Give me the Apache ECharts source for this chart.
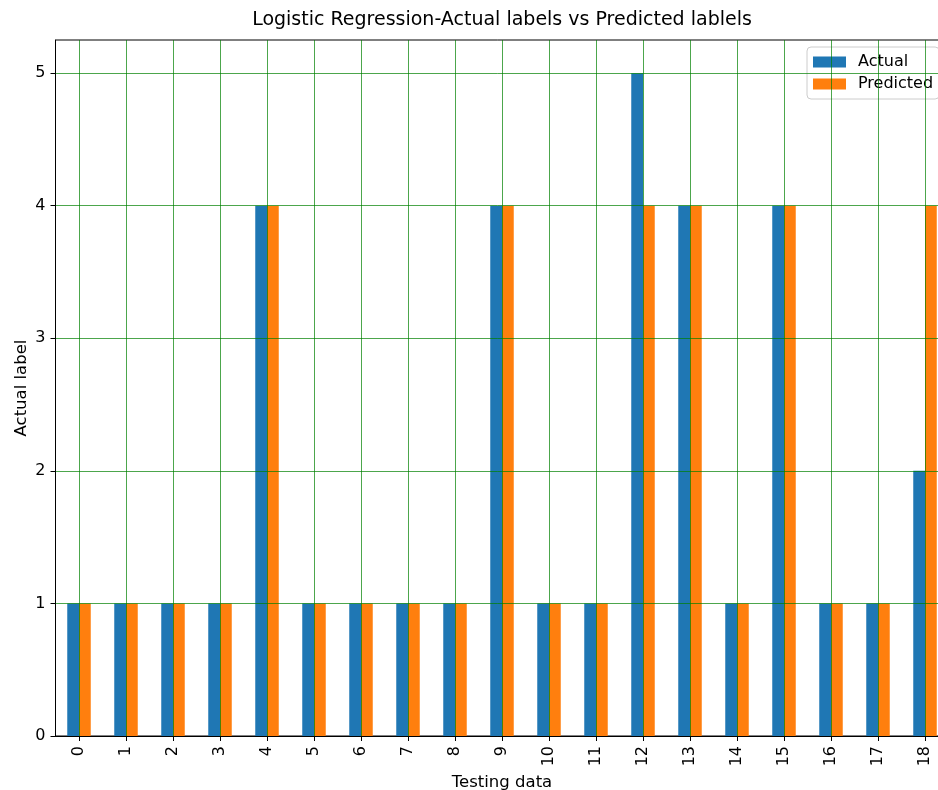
<!DOCTYPE html>
<html>
<head>
<meta charset="utf-8">
<script src="https://cdn.jsdelivr.net/npm/echarts@6/dist/echarts.min.js"></script>
<style>
  html, body { margin: 0; padding: 0; background: #fff; }
  #chart { width: 938px; height: 790px; }
</style>
</head>
<body>
<div id="chart"></div>
<script>
const categories = ["0", "1", "2", "3", "4", "5", "6", "7", "8", "9", "10", "11", "12", "13", "14", "15", "16", "17", "18"];
const actual = [1, 1, 1, 1, 4, 1, 1, 1, 1, 4, 1, 1, 5, 4, 1, 4, 1, 1, 2];
const predicted = [1, 1, 1, 1, 4, 1, 1, 1, 1, 4, 1, 1, 4, 4, 1, 4, 1, 1, 4];
const yTicks = [0, 1, 2, 3, 4, 5];

const FONT = "DejaVu Sans";
const gridGreen = "rgba(0,128,0,0.7)";

const chart = echarts.init(document.getElementById("chart"), null, { renderer: "canvas" });

chart.setOption({
  backgroundColor: "#fff",
  animation: false,
  textStyle: { fontFamily: FONT },
  title: {
    text: "Logistic Regression-Actual labels vs Predicted lablels",
    left: 497,
    top: 6,
    textAlign: "center",
    textStyle: { fontFamily: FONT, fontSize: 19, fontWeight: "normal", color: "#000" },
  },
  legend: {
    data: ["Actual", "Predicted"],
    orient: "vertical",
    left: 807,
    top: 47,
    padding: [7, 6, 7, 6],
    icon: "rect",
    itemWidth: 33,
    itemHeight: 11,
    itemGap: 6,
    backgroundColor: "rgba(255,255,255,0.85)",
    borderColor: "#cccccc",
    borderWidth: 1,
    borderRadius: 4,
    textStyle: { fontFamily: FONT, fontSize: 16, color: "#000", padding: [0, 0, 0, 7] },
  },
  grid: {
    left: 55.5,
    top: 40,
    width: 893,
    height: 696,
    outerBoundsMode: "none",
    containLabel: false,
    show: true,
    borderColor: "#000",
    borderWidth: 1,
    backgroundColor: "transparent",
  },
  xAxis: {
    type: "category",
    data: categories,
    z: 5,
    name: "Testing data",
    nameLocation: "middle",
    nameGap: 37,
    nameTextStyle: { fontFamily: FONT, fontSize: 16.5, color: "#000" },
    axisLine: { lineStyle: { color: "#000", width: 1 } },
    axisTick: { show: true, alignWithLabel: true, length: 5, lineStyle: { color: "#000" } },
    axisLabel: { rotate: 90, margin: 10, fontFamily: FONT, fontSize: 16, color: "#000" },
    splitLine: { show: true, alignWithLabel: true, lineStyle: { color: gridGreen, width: 1 } },
  },
  yAxis: {
    type: "value",
    min: 0,
    max: 5.25,
    interval: 1,
    z: 5,
    name: "Actual label",
    nameLocation: "middle",
    nameGap: 25,
    nameMoveOverlap: false,
    nameTextStyle: { fontFamily: FONT, fontSize: 16.5, color: "#000" },
    axisLine: { show: true, lineStyle: { color: "#000", width: 1 } },
    axisTick: { show: true, length: 5, customValues: yTicks, lineStyle: { color: "#000" } },
    axisLabel: {
      margin: 10,
      fontFamily: FONT,
      fontSize: 16,
      color: "#000",
      customValues: yTicks,
    },
    splitLine: { show: true, lineStyle: { color: gridGreen, width: 1 } },
  },
  series: [
    {
      name: "Actual",
      type: "bar",
      data: actual,
      barWidth: 11.75,
      barGap: "0%",
      itemStyle: { color: "#1f77b4" },
    },
    {
      name: "Predicted",
      type: "bar",
      data: predicted,
      barWidth: 11.75,
      barGap: "0%",
      itemStyle: { color: "#ff7f0e" },
    },
  ],
});
</script>
</body>
</html>
